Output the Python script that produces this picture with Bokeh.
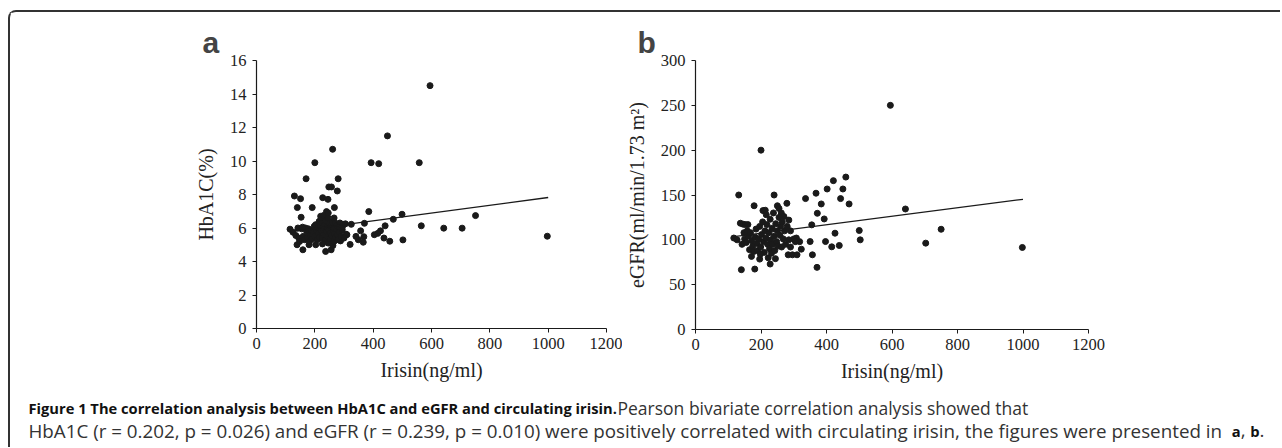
from bokeh.plotting import figure
from bokeh.layouts import row, column
from bokeh.models import Range1d, Label, FixedTicker
from bokeh.embed import file_html
from bokeh.resources import INLINE

# ---------------- data ----------------
xa = [595, 449, 261, 200, 393, 419, 558, 170, 280,
      130, 151, 140, 191, 153, 115,
      248, 257, 277, 227, 245, 267, 240,
      385, 499, 469, 751, 565, 642, 705, 997,
      502, 457, 441, 425, 416, 404, 437, 370, 357, 368, 366, 349, 341, 321, 325, 297, 307, 288,
      139, 159, 180, 237, 256,
      125, 135, 142, 145, 148, 155, 160, 165, 168, 172, 175, 178, 182, 185, 188, 190, 195, 198,
      200, 203, 205, 208, 210, 212, 215, 216, 218, 220, 222, 224, 225, 226, 228, 230, 232, 234,
      235, 238, 240, 242, 244, 245, 246, 248, 250, 252, 254, 255, 258, 260, 262, 264, 265, 266,
      268, 270, 272, 274, 275, 278, 280, 283, 285, 286, 290, 294, 295, 300, 305, 310,
      158, 203, 226, 246, 266]
ya = [14.5, 11.5, 10.7, 9.9, 9.9, 9.84, 9.9, 8.94, 8.94,
      7.91, 7.75, 7.22, 7.22, 6.64, 5.93,
      8.45, 8.45, 8.21, 7.81, 7.71, 7.22, 6.98,
      6.98, 6.82, 6.52, 6.74, 6.13, 5.99, 5.99, 5.51,
      5.29, 5.21, 6.13, 5.83, 5.68, 5.6, 5.4, 6.28, 5.83, 5.48, 5.15, 5.3, 5.5, 5.02, 6.22, 6.22, 5.63, 5.23,
      5.0, 4.7, 5.0, 4.6, 4.7,
      5.75, 5.55, 6.0, 5.4, 5.2, 5.95, 5.5, 5.3, 6.0, 5.8, 5.45, 5.95, 5.2, 5.6, 5.85, 5.35, 5.75, 6.1,
      5.5, 6.2, 5.9, 5.3, 6.0, 5.65, 6.4, 5.45, 6.15, 6.7, 5.85, 6.55, 5.4, 6.3, 6.0, 6.75, 5.6, 6.2,
      5.25, 6.45, 5.8, 6.05, 5.5, 6.6, 5.1, 5.9, 6.25, 5.35, 5.7, 6.1, 5.55, 6.35, 4.95, 5.8, 6.0, 5.2,
      5.65, 6.3, 5.45, 5.95, 6.15, 5.6, 5.3, 6.05, 5.75, 6.3, 5.5, 5.9, 6.1, 5.4, 6.25, 5.6,
      6.05, 5.0, 5.05, 6.9, 6.6]

xb = [595, 200, 421, 459, 132, 240, 179, 206, 213, 279, 336, 368, 384, 372, 402, 450, 443, 469,
      393, 355, 426, 500, 503, 397, 350, 416, 439, 357, 371, 641, 750, 703, 998,
      308, 318, 323, 283, 296, 310, 228, 140, 181, 196, 171, 117, 127, 137, 145, 152, 160,
      250, 255, 262, 270, 285, 290, 300, 305,
      142, 148, 150, 155, 158, 162, 165, 168, 172, 175, 178, 182, 185, 188, 190, 193, 196, 199,
      202, 205, 208, 210, 212, 215, 218, 220, 222, 224, 226, 228, 230, 232, 234, 236, 238, 240,
      242, 245, 248, 250, 252, 255, 258, 260, 263, 265, 268, 272, 275, 280, 285, 290, 216, 198, 244]
yb = [250, 200, 166, 170, 150, 150, 138, 132.6, 133, 140.7, 146, 152, 140, 129.6, 156.7, 156.7, 146, 140,
      123.3, 116.7, 107.4, 110.4, 100, 98.1, 98.1, 92.2, 93.7, 83.3, 69.3, 134.4, 111.8, 96.3, 91.5,
      102, 98, 89.6, 83.3, 83.3, 83.3, 73, 66.7, 67.4, 78.5, 81.5, 102, 100, 118.5, 117.5, 117, 117,
      138, 135, 130, 126, 122, 110, 101, 98,
      95, 108, 101, 97, 110, 104, 89, 108, 99, 93, 87, 103, 112, 96, 88, 101, 115, 92,
      106, 120, 98, 86, 110, 102, 117, 95, 80, 108, 90, 123, 100, 85, 113, 95, 130, 104,
      88, 118, 98, 110, 93, 125, 105, 115, 92, 120, 101, 110, 95, 115, 100, 92, 128, 84, 79]

trend_x_a = [115, 1000]
trend_y_a = [5.77, 7.82]
trend_x_b = [117, 1000]
trend_y_b = [103.5, 145.2]

x_ticks = [0, 200, 400, 600, 800, 1000, 1200]
ya_ticks = [0, 2, 4, 6, 8, 10, 12, 14, 16]
yb_ticks = [0, 50, 100, 150, 200, 250, 300]

panel_labels = ["a", "b"]
x_label = "Irisin(ng/ml)"
ya_label = "HbA1C(%)"
yb_label = "eGFR(ml/min/1.73 m\u00b2)"

cap_bold = "Figure 1 The correlation analysis between HbA1C and eGFR and circulating irisin."
cap_rest1 = "Pearson bivariate correlation analysis showed that"
cap_line2 = ("HbA1C (r = 0.202, p = 0.026) and eGFR (r = 0.239, p = 0.010) were positively "
             "correlated with circulating irisin, the figures were presented in")

INK = "#1a1a1a"
SERIF = "Liberation Serif"


def make_panel(x, y, tx, ty, yticks, ymax, ylabel, letter, width, left, top, bottom, frame_h):
    p = figure(width=width, height=top + frame_h + bottom, output_backend="svg",
               toolbar_location=None, x_range=Range1d(0, 1200), y_range=Range1d(0, ymax),
               min_border_left=left, min_border_right=0,
               min_border_top=top, min_border_bottom=bottom)
    p.outline_line_color = None
    p.grid.visible = False
    p.background_fill_color = "white"
    p.border_fill_color = "white"
    p.scatter(x, y, size=6, color=INK)
    p.line(tx, ty, line_width=1.3, color=INK)
    p.xaxis.ticker = FixedTicker(ticks=x_ticks)
    p.yaxis.ticker = FixedTicker(ticks=yticks)
    p.xaxis.axis_label = x_label
    p.yaxis.axis_label = ylabel
    for ax in (p.xaxis[0], p.yaxis[0]):
        ax.axis_line_color = INK
        ax.axis_line_width = 1.2
        ax.major_tick_line_color = INK
        ax.major_tick_out = 4
        ax.major_tick_in = 0
        ax.minor_tick_line_color = None
        ax.major_label_text_font = SERIF
        ax.major_label_text_font_size = "16.5px"
        ax.major_label_text_color = "#222222"
        ax.axis_label_text_font = SERIF
        ax.axis_label_text_font_size = "20px"
        ax.axis_label_text_font_style = "normal"
        ax.axis_label_text_color = "#222222"
    p.xaxis.major_label_standoff = 5
    p.yaxis.major_label_standoff = 6
    p.xaxis.axis_label_standoff = 7
    p.yaxis.axis_label_standoff = 10
    p.title.text = letter
    p.title.text_font = "Liberation Sans"
    p.title.text_font_style = "bold"
    p.title.text_font_size = "30px"
    p.title.align = "left"
    p.title.standoff = 4
    return p


# page: margin 8 left / 10 top, 2px border -> content origin at (10, 12)
pa = make_panel(xa, ya, trend_x_a, trend_y_a, ya_ticks, 16, ya_label, panel_labels[0],
                612, 246, 47, 64, 269)
pa.min_border_right = 16
pa.title.offset = -54
pb = make_panel(xb, yb, trend_x_b, trend_y_b, yb_ticks, 300, yb_label, panel_labels[1],
                658, 72, 48, 63, 270)
pb.min_border_right = 192
pb.title.offset = -58

cap = figure(width=1270, height=54, output_backend="svg", toolbar_location=None,
             x_range=Range1d(0, 1270), y_range=Range1d(54, 0),
             min_border=0)
cap.axis.visible = False
cap.grid.visible = False
cap.outline_line_color = None
CAPFONT = "Open Sans"
bold = dict(text_font=CAPFONT, text_font_size="14.7px", text_baseline="middle",
            text_font_style="bold", text_color="#111111")
reg1 = dict(text_font=CAPFONT, text_font_size="17.5px", text_baseline="middle", text_color="#333333")
reg2 = dict(text_font=CAPFONT, text_font_size="18.8px", text_baseline="middle", text_color="#333333")
cap.add_layout(Label(x=18, y=14, text=cap_bold, **bold))
cap.add_layout(Label(x=607, y=14, text=cap_rest1, **reg1))
cap.add_layout(Label(x=18, y=37, text=cap_line2, **reg2))
cap.add_layout(Label(x=1230, y=37, text="a", text_align="right", **bold))
cap.add_layout(Label(x=1235, y=37, text=",", text_align="right", **reg2))
cap.add_layout(Label(x=1249, y=37, text="b", text_align="right", **bold))
cap.add_layout(Label(x=1254, y=37, text=".", text_align="right", **reg2))

layout = column(row(pa, pb), cap,
                styles={"border-top": "2px solid #333333",
                        "border-left": "2px solid #333333",
                        "border-top-left-radius": "8px",
                        "margin-left": "8px",
                        "margin-top": "10px"})

open("out.html", "w").write(file_html(layout, INLINE))
